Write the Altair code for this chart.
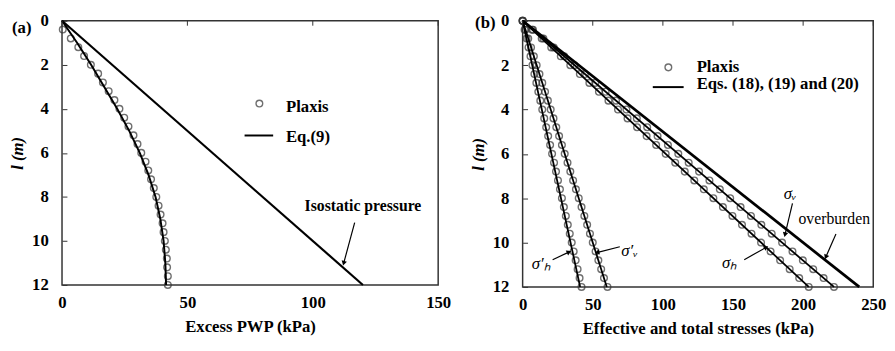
import altair as alt
import pandas as pd

FONT = "'Liberation Serif', 'Times New Roman', Times, serif"

# ---------------- Panel (a) data ----------------
a_depth = [0.4, 0.8, 1.2, 1.6, 2.0, 2.4, 2.8, 3.2, 3.6, 4.0, 4.4, 4.8, 5.2, 5.6, 6.0,
           6.4, 6.8, 7.2, 7.6, 8.0, 8.4, 8.8, 9.2, 9.6, 10.0, 10.4, 10.8, 11.2, 11.6, 12.0]
a_plaxis = [0.3, 3.5, 6.5, 8.8, 11.5, 14.4, 16.3, 18.6, 20.9, 22.9, 24.8, 26.5, 28.5, 30.1, 31.6,
            33.3, 34.4, 35.5, 36.6, 37.6, 38.5, 39.3, 40.1, 40.5, 41.0, 41.4, 41.8, 41.9, 42.2, 42.2]
a_eq_depth = [0, 1, 2, 3, 4, 5, 6, 7, 8, 9, 10, 11, 12]
a_eq = [0, 6.0, 11.6, 16.8, 22.0, 26.8, 31.0, 34.5, 37.3, 39.2, 40.5, 41.2, 41.5]
a_iso_depth = [0, 12]
a_iso = [0, 120]

# ---------------- Panel (b) data ----------------
b_depth = [0.0, 0.4, 0.8, 1.2, 1.6, 2.0, 2.4, 2.8, 3.2, 3.6, 4.0, 4.4, 4.8, 5.2, 5.6, 6.0,
           6.4, 6.8, 7.2, 7.6, 8.0, 8.4, 8.8, 9.2, 9.6, 10.0, 10.4, 10.8, 11.2, 11.6, 12.0]
b_sh_eff = [0, 1.4, 2.8, 4.2, 5.6, 7.0, 8.4, 9.8, 11.2, 12.6, 14.0, 15.4, 16.8, 18.2, 19.6, 21.0,
            22.4, 23.8, 25.2, 26.6, 28.0, 29.4, 30.8, 32.2, 33.6, 35.0, 36.4, 37.8, 39.2, 40.6, 42.0]
b_sv_eff = [0, 2.0, 4.0, 6.0, 8.0, 10.0, 12.0, 14.0, 16.0, 18.0, 20.0, 22.0, 24.0, 26.0, 28.0, 30.0,
            32.0, 34.0, 36.0, 38.0, 40.0, 42.0, 44.0, 46.0, 48.0, 50.0, 52.0, 54.0, 56.0, 58.0, 60.5]
b_sh = [0, 6.8, 13.6, 20.4, 27.2, 34.0, 40.8, 47.6, 54.4, 61.2, 68.0, 74.8, 81.6, 88.4, 95.2, 102.0,
        108.8, 115.6, 122.4, 129.2, 136.0, 142.8, 149.6, 156.4, 163.2, 170.0, 176.8, 183.6, 190.4, 197.2, 204.0]
b_sv = [0, 7.4, 14.8, 22.2, 29.6, 37.0, 44.4, 51.8, 59.2, 66.6, 74.0, 81.4, 88.8, 96.2, 103.6, 111.0,
        118.4, 125.8, 133.2, 140.6, 148.0, 155.4, 162.8, 170.2, 177.6, 185.0, 192.4, 199.8, 207.2, 214.6, 222.0]
b_line_names = ["sh_eff", "sv_eff", "sh", "sv", "overburden"]
b_line_end = [41, 60, 204, 222, 240]
b_line_width = [1.8, 1.8, 1.8, 1.8, 2.8]

# ---------------- Annotations ----------------
a_leg_text = ["Plaxis", "Eq.(9)"]
a_leg_text_x = [89.3, 89.3]
a_leg_text_y = [3.9, 5.28]
a_leg_pt = (78.7, 3.76)
a_leg_line = (72.8, 84.2, 5.21)
a_lab_text = ["Isostatic pressure"]
a_lab_x = [120.0]
a_lab_y = [8.4]
a_arr_x = [116.7]; a_arr_y = [9.17]; a_arr_x2 = [112.4]; a_arr_y2 = [10.98]; a_arr_ang = [195]

b_leg_text = ["Plaxis", "Eqs. (18), (19) and (20)"]
b_leg_text_x = [124.1, 124.1]
b_leg_text_y = [2.07, 2.87]
b_leg_pt = (103.9, 2.1)
b_leg_line = (92.8, 114.8, 2.99)
b_sig_text = ["σᵥ", "σₕ", "σ′ᵥ", "σ′ₕ"]
b_sig_x = [190.7, 147.5, 76.3, 13.3]
b_sig_y = [7.8, 10.91, 10.4, 10.99]
b_ob_text = ["overburden"]
b_ob_x = [222.2]
b_ob_y = [8.96]
b_arr_x = [192.4, 223.4, 158.0, 69.3, 21.4]
b_arr_y = [8.23, 9.61, 10.77, 10.19, 10.77]
b_arr_x2 = [187.2, 216.4, 173.2, 53.6, 32.6]
b_arr_y2 = [9.61, 10.62, 10.23, 10.44, 10.44]
b_arr_ang = [193, 203, 60, 256, 64]
y_ticks = [0, 2, 4, 6, 8, 10, 12]

PT = dict(shape="circle", size=46, strokeWidth=1.4, color="#333", filled=False)


def panel(xmax, xvals, xtitle, w, h, circles, lines, leg_pt, leg_line, leg_text, leg_x, leg_y,
          label_sets, arrows, tag, tag_x, tag_y):
    xs = alt.Scale(domain=[0, xmax], nice=False)
    ys = alt.Scale(domain=[0, 12], reverse=True, nice=False)

    layers = []
    cdf = pd.DataFrame(circles)
    layers.append(alt.Chart(cdf).mark_point(**PT).encode(
        x=alt.X("x:Q", scale=xs, title=xtitle, axis=alt.Axis(values=xvals, orient="bottom")),
        y=alt.Y("y:Q", scale=ys, title="l (m)", axis=alt.Axis(values=y_ticks, orient="left", offset=-5))))
    ldf = pd.DataFrame(lines)
    layers.append(alt.Chart(ldf).mark_line(color="black").encode(
        x="x:Q", y="y:Q", detail="s:N", order="o:Q",
        strokeWidth=alt.StrokeWidth("lw:Q", scale=None, legend=None)))
    tkdf = pd.DataFrame({"x": xvals})
    layers.append(alt.Chart(tkdf).mark_rule(color="#333", strokeWidth=1).encode(
        x="x:Q", y=alt.value(0), y2=alt.value(5)))
    pdf = pd.DataFrame({"x": [leg_pt[0]], "y": [leg_pt[1]]})
    layers.append(alt.Chart(pdf).mark_point(**PT).encode(x="x:Q", y="y:Q"))
    rdf = pd.DataFrame({"x": [leg_line[0]], "x2": [leg_line[1]], "y": [leg_line[2]]})
    layers.append(alt.Chart(rdf).mark_rule(color="black", strokeWidth=2).encode(
        x="x:Q", x2="x2:Q", y="y:Q"))
    tdf = pd.DataFrame({"t": leg_text, "x": leg_x, "y": leg_y})
    layers.append(alt.Chart(tdf).mark_text(align="left", baseline="middle", font=FONT,
                                           fontWeight="bold", fontSize=17, color="black").encode(
        x="x:Q", y="y:Q", text="t:N"))
    for lab, weight, style, size in label_sets:
        labdf = pd.DataFrame(lab)
        layers.append(alt.Chart(labdf).mark_text(align="center", baseline="middle", font=FONT,
                                                 fontSize=size, color="black",
                                                 fontWeight=weight, fontStyle=style).encode(
            x="x:Q", y="y:Q", text="t:N"))
    adf = pd.DataFrame(arrows)
    layers.append(alt.Chart(adf).mark_rule(color="black", strokeWidth=1.2).encode(
        x="x:Q", y="y:Q", x2="x2:Q", y2="y2:Q"))
    layers.append(alt.Chart(adf).mark_point(shape="triangle", size=30, filled=True, color="black",
                                            opacity=1).encode(
        x="x2:Q", y="y2:Q", angle=alt.Angle("a:Q", scale=None)))
    layers.append(alt.Chart(pd.DataFrame({"t": [tag]})).mark_text(
        font=FONT, fontWeight="bold", fontSize=17, color="black", align="center",
        baseline="middle").encode(x=alt.value(tag_x), y=alt.value(tag_y), text="t:N"))
    return alt.layer(*layers).properties(width=w, height=h)


a_circles = {"x": a_plaxis, "y": a_depth}
a_lines = {"x": a_eq + a_iso, "y": a_eq_depth + a_iso_depth,
           "s": ["eq"] * len(a_eq) + ["iso"] * len(a_iso),
           "o": list(range(len(a_eq))) + list(range(len(a_iso))),
           "lw": [2.0] * len(a_eq) + [2.2] * len(a_iso)}
a_label_sets = [({"t": a_lab_text, "x": a_lab_x, "y": a_lab_y}, "bold", "normal", 16)]
a_arrows = {"x": a_arr_x, "y": a_arr_y, "x2": a_arr_x2, "y2": a_arr_y2, "a": a_arr_ang}

b_circles = {"x": b_sh_eff + b_sv_eff + b_sh + b_sv, "y": b_depth * 4}
bx, by, bs, bo, bw = [], [], [], [], []
for n, e, lw in zip(b_line_names, b_line_end, b_line_width):
    bx += [0, e]; by += [0, 12]; bs += [n, n]; bo += [0, 1]; bw += [lw, lw]
b_lines = {"x": bx, "y": by, "s": bs, "o": bo, "lw": bw}
b_label_sets = [({"t": b_sig_text, "x": b_sig_x, "y": b_sig_y}, "normal", "italic", 17),
                ({"t": b_ob_text, "x": b_ob_x, "y": b_ob_y}, "normal", "normal", 16)]
b_arrows = {"x": b_arr_x, "y": b_arr_y, "x2": b_arr_x2, "y2": b_arr_y2, "a": b_arr_ang}

pa = panel(150, [0, 50, 100, 150], "Excess PWP (kPa)", 383, 269, a_circles, a_lines,
           a_leg_pt, a_leg_line, a_leg_text, a_leg_text_x, a_leg_text_y,
           a_label_sets, a_arrows, "(a)", -41, 7)
pb = panel(250, [0, 50, 100, 150, 200, 250], "Effective and total stresses (kPa)", 357, 271,
           b_circles, b_lines, b_leg_pt, b_leg_line, b_leg_text, b_leg_text_x, b_leg_text_y,
           b_label_sets, b_arrows, "(b)", -38, 2)

chart = alt.hconcat(pa, pb, spacing=17).properties(
    padding={"left": 0, "top": 0, "right": 0, "bottom": 0}, background="white"
).configure_view(stroke="#333", strokeWidth=1.5).configure_axis(
    grid=False, domain=False, labelFont=FONT, labelFontWeight="bold", labelFontSize=17,
    labelColor="black", titleFont=FONT, titleFontWeight="bold", titleFontSize=17,
    titleColor="black", labelFlush=False
).configure_axisX(ticks=False, labelPadding=10, titlePadding=8
).configure_axisY(ticks=True, tickSize=5, tickColor="#333", tickWidth=1, labelPadding=14,
                  titlePadding=5, titleFontStyle="italic")

chart.save("out.html", embed_options={"renderer": "svg", "actions": False})
